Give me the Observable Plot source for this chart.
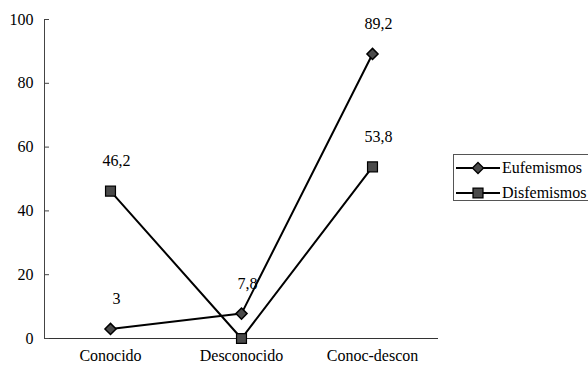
<!DOCTYPE html>
<html>
<head>
<meta charset="utf-8">
<script src="https://cdn.jsdelivr.net/npm/d3@7"></script>
<script src="https://cdn.jsdelivr.net/npm/@observablehq/plot@0.6"></script>
<style>
  html, body { margin: 0; padding: 0; background: #fff; }
  #chart { position: relative; width: 588px; height: 367px; overflow: hidden; }
  #chart text { font-family: "Liberation Serif" !important; }
  #legend {
    position: absolute; left: 453px; top: 154px; width: 140px; height: 47px;
    border: 1px solid #555; background: #fff; box-sizing: border-box;
    font-family: "Liberation Serif"; font-size: 16px; color: #000;
  }
  .item { position: absolute; left: 2px; height: 20px; display: flex; align-items: center; white-space: nowrap; }
  .item svg { display: block; margin-right: 2px; }
</style>
</head>
<body>
<div id="chart"></div>
<script>
// Categories on the horizontal axis
const categories = ["Conocido", "Desconocido", "Conoc-descon"];

// Percentages per series
const eufemismos = [3, 7.8, 89.2];
const disfemismos = [46.2, 0, 53.8];

// Series names and y-axis ticks
const seriesNames = ["Eufemismos", "Disfemismos"];
const yTicks = [0, 20, 40, 60, 80, 100];

const FONT = "Liberation Serif";

const rows = [
  ...categories.map((c, i) => ({cat: c, value: eufemismos[i], series: seriesNames[0]})),
  ...categories.map((c, i) => ({cat: c, value: disfemismos[i], series: seriesNames[1]}))
];
const euf = rows.filter(d => d.series === seriesNames[0]);
const dis = rows.filter(d => d.series === seriesNames[1]);
const fmt = v => String(v).replace(".", ",");
const markerFill = "#4a4a4a";

const plot = Plot.plot({
  width: 588,
  height: 367,
  marginLeft: 44,
  marginRight: 150,
  marginTop: 19,
  marginBottom: 29,
  style: {fontFamily: FONT, fontSize: "16px", color: "#000", background: "#fff"},
  x: {type: "point", domain: categories, padding: 0.5, label: null},
  y: {domain: [0, 100], label: null},
  marks: [
    Plot.frame({anchor: "left", stroke: "#444"}),
    Plot.ruleY([0], {stroke: "#333"}),
    Plot.axisY(yTicks, {tickSize: -5, tickPadding: 16, label: null, stroke: "#444"}),
    Plot.axisX({tickSize: 0, tickPadding: 11, label: null}),
    Plot.line(euf, {x: "cat", y: "value", stroke: "#000", strokeWidth: 2}),
    Plot.line(dis, {x: "cat", y: "value", stroke: "#000", strokeWidth: 2}),
    Plot.dot(euf, {x: "cat", y: "value", symbol: "diamond2", r: 5, fill: markerFill, stroke: "#000", strokeWidth: 1.5}),
    Plot.dot(dis, {x: "cat", y: "value", symbol: "square", r: 5.6, fill: markerFill, stroke: "#000", strokeWidth: 1.2}),
    Plot.text(rows.filter(d => d.value !== 0), {
      x: "cat", y: "value", text: d => fmt(d.value),
      dx: 6, dy: -30, fill: "#000"
    })
  ]
});

const chart = document.getElementById("chart");
chart.appendChild(plot);

// Legend: bordered HTML box with a line-and-marker sample per series
const legend = d3.select(chart).append("div").attr("id", "legend");
const symbols = [d3.symbolDiamond2, d3.symbolSquare];
const sizes = [5 * 5 * Math.PI, 5.6 * 5.6 * Math.PI];
seriesNames.forEach((name, i) => {
  const item = legend.append("div").attr("class", "item").style("top", `${3 + i * 25}px`);
  const s = item.append("svg").attr("width", 44).attr("height", 20);
  s.append("line").attr("x1", 0).attr("x2", 44).attr("y1", 10).attr("y2", 10)
    .attr("stroke", "#000").attr("stroke-width", 2);
  s.append("path").attr("d", d3.symbol(symbols[i], sizes[i])())
    .attr("transform", "translate(22,10)")
    .attr("fill", markerFill).attr("stroke", "#000").attr("stroke-width", 1.3);
  item.append("span").text(name);
});
</script>
</body>
</html>
